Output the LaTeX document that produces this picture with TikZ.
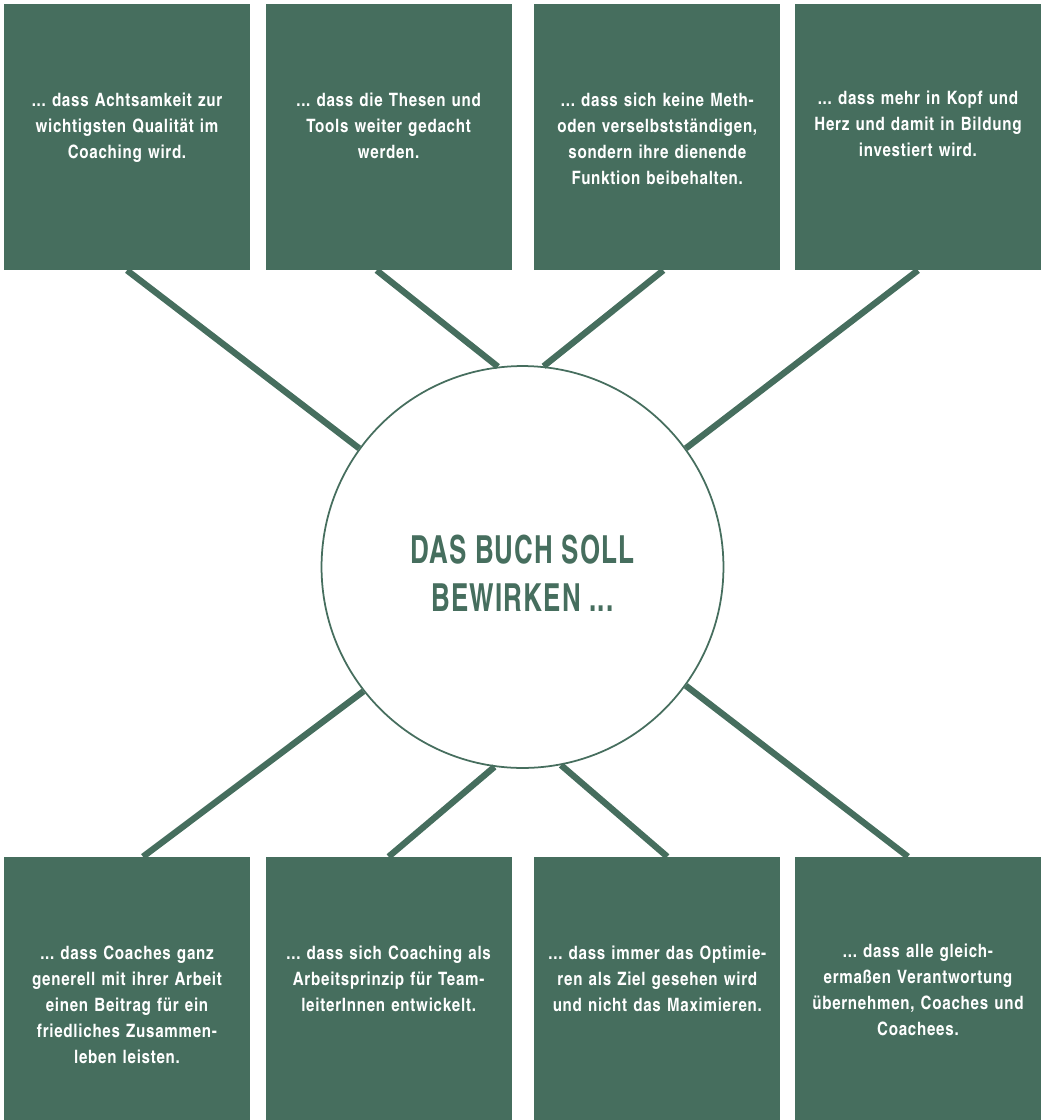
\documentclass[tikz,border=0pt]{standalone}
\usepackage{fontspec}
\setmainfont[LetterSpace=4]{texgyreheroscn-bold.otf}
\newfontfamily\titlefont[FakeStretch=0.82, LetterSpace=3]{texgyreheroscn-bold.otf}
\usetikzlibrary{positioning, shapes.geometric}
\definecolor{mainGreen}{RGB}{70, 110, 94}
\tikzstyle{thesis} = [rectangle, minimum width=4.92cm, minimum height=5.32cm, inner sep=0pt, fill=mainGreen]
\tikzstyle{thesistext} = [text width=4.8cm, align=center, inner sep=0pt, text=white, font=\fontsize{10.5}{14.8}\selectfont\frenchspacing]
\tikzstyle{hub} = [circle, minimum size=8.04cm, inner sep=0pt, draw=mainGreen, line width=1pt, fill=white]
\tikzstyle{hubtext} = [align=center, inner sep=0pt, text=mainGreen, font=\titlefont\fontsize{22}{27.5}\selectfont\frenchspacing]
\tikzstyle{spoke} = [line width=3.6pt, draw=mainGreen]

\begin{document}
\begin{tikzpicture}[x=0.02cm, y=-0.02cm, node distance=0.3cm and 0.3cm]
			\useasboundingbox (0,0) rectangle (1047,1120);
			\node (t1) [thesis] at (127,137) {};
			\node (t2) [thesis, right=0.3cm of t1] {};
			\node (t3) [thesis, right=0.44cm of t2] {};
			\node (t4) [thesis, right=0.28cm of t3] {};
			\node (b1) [thesis, minimum height=5.26cm] at (127,988.5) {};
			\node (b2) [thesis, minimum height=5.26cm, right=0.3cm of b1] {};
			\node (b3) [thesis, minimum height=5.26cm, right=0.44cm of b2] {};
			\node (b4) [thesis, minimum height=5.26cm, right=0.28cm of b3] {};

			\node (t1text) [thesistext, below=1.78cm of t1.north] {... dass Achtsamkeit zur\\wichtigsten Qualität im\\Coaching wird.};
			\node (t2text) [thesistext, below=1.78cm of t2.north] {... dass die Thesen und\\Tools weiter gedacht\\werden.};
			\node (t3text) [thesistext, below=1.78cm of t3.north] {... dass sich keine Meth-\\oden verselbstständigen,\\sondern ihre dienende\\Funktion beibehalten.};
			\node (t4text) [thesistext, below=1.74cm of t4.north] {... dass mehr in Kopf und\\Herz und damit in Bildung\\investiert wird.};
			\node (b1text) [thesistext, below=1.78cm of b1.north] {... dass Coaches ganz\\generell mit ihrer Arbeit\\einen Beitrag für ein\\friedliches Zusammen-\\leben leisten.};
			\node (b2text) [thesistext, below=1.78cm of b2.north] {... dass sich Coaching als\\Arbeitsprinzip für Team-\\leiterInnen entwickelt.};
			\node (b3text) [thesistext, below=1.78cm of b3.north] {... dass immer das Optimie-\\ren als Ziel gesehen wird\\und nicht das Maximieren.};
			\node (b4text) [thesistext, below=1.74cm of b4.north] {... dass alle gleich-\\ermaßen Verantwortung\\übernehmen, Coaches und\\Coachees.};

			\node (hub) [hub] at (522.5,567) {};
			\node (title) [hubtext] at ([yshift=-0.12cm]hub.center) {DAS BUCH SOLL\\BEWIRKEN ...};

			\draw [spoke] (t1.south) -- (hub.144);
			\draw [spoke] ([xshift=-0.24cm]t2.south) -- (hub.97);
			\draw [spoke] ([xshift=0.12cm]t3.south) -- (hub.84);
			\draw [spoke] (t4.south) -- (hub.36);
			\draw [spoke] ([xshift=0.32cm]b1.north) -- (hub.218);
			\draw [spoke] (b2.north) -- (hub.262);
			\draw [spoke] ([xshift=0.2cm]b3.north) -- (hub.281);
			\draw [spoke] ([xshift=-0.2cm]b4.north) -- (hub.324);
\end{tikzpicture}
\end{document}
